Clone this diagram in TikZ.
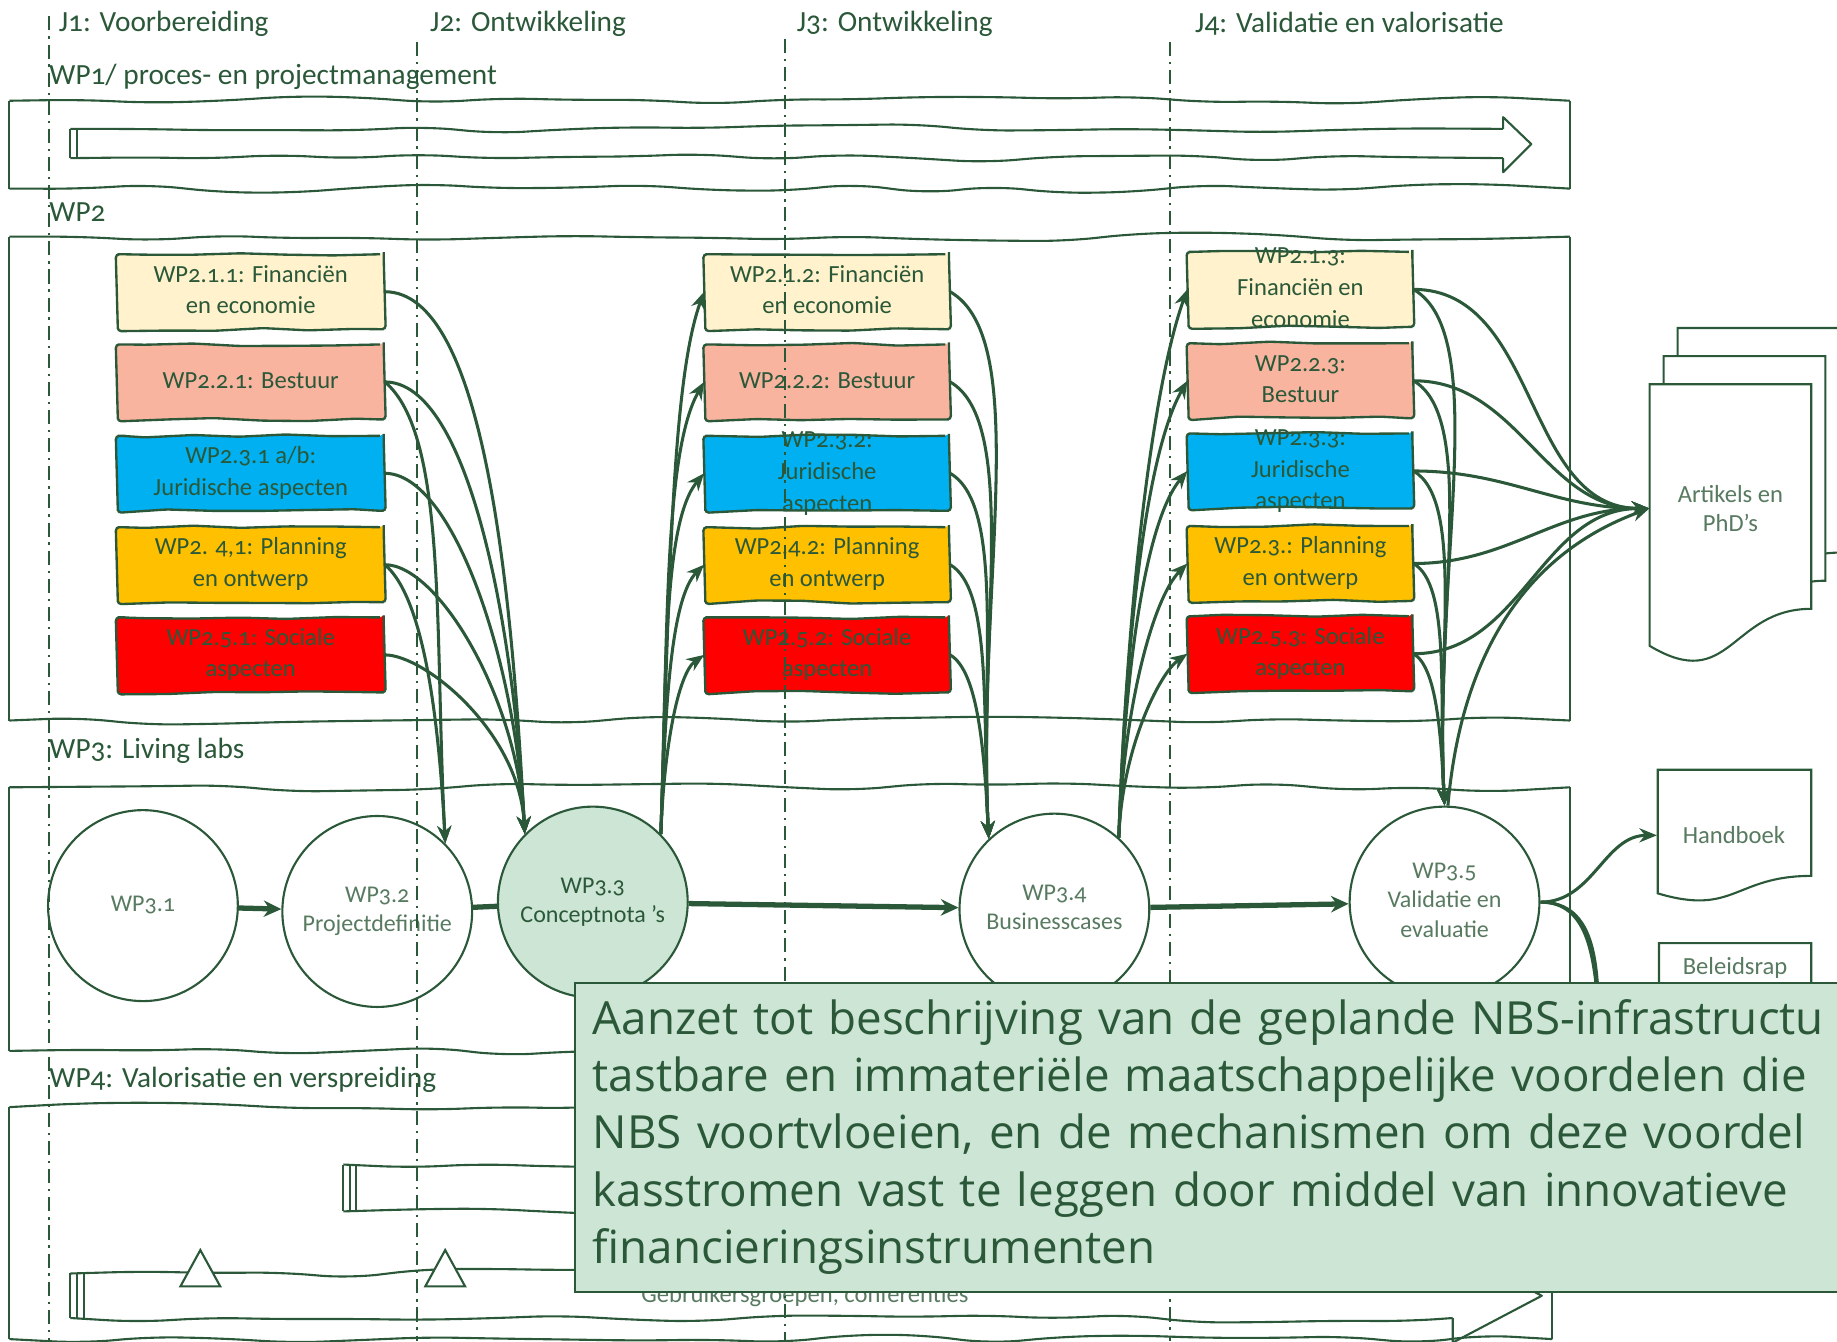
\documentclass[tikz,border=0pt]{standalone}
\usepackage{fontspec}
\setmainfont{Carlito}[Numbers=OldStyle]
\newfontfamily\bigfont{Open Sans}
\usetikzlibrary{calc,arrows.meta,shapes.geometric,decorations.pathmorphing}

\definecolor{dkgreen}{RGB}{42,88,56}
\definecolor{ltgreen}{RGB}{88,122,96}
\definecolor{mint}{RGB}{204,229,212}
\definecolor{finc}{RGB}{255,242,204}
\definecolor{bestc}{RGB}{249,180,160}
\definecolor{jurc}{RGB}{0,176,240}
\definecolor{planc}{RGB}{255,192,0}
\definecolor{socc}{RGB}{255,0,0}

\newcommand\hdrfont{\fontsize{25}{28}\selectfont}
\newcommand\boxfont{\fontsize{21}{27}\selectfont}
\newcommand\stepfont{\fontsize{20.5}{25}\selectfont}
\newcommand\sheetfont{\fontsize{21}{25}\selectfont}
\newcommand\aanzetfont{\bigfont\fontsize{39}{49}\selectfont}

\def\boxtext#1{\smash{\raisebox{-5pt}{\begin{tabular}{@{}c@{}}#1\end{tabular}}}}
\def\steptext#1{\makebox[0pt]{\boxtext{#1}}}
\def\docsheet[#1](#2,#3)(#4,#5){\draw[#1] (#2,#3) -- (#4,#3) -- (#4,{#3+0.802*(#5-#3)}) .. controls ({0.5*(#2+#4)},{#3+0.802*(#5-#3)}) and ({0.5*(#2+#4)},{#3+1.1075*(#5-#3)}) .. (#2,{#3+0.934*(#5-#3)}) -- cycle;}
\def\sketchrect[#1](#2,#3)(#4,#5){\draw[#1, wavy] (#2,#3) -- (#4,#3); \draw[#1, wavy] (#2,#5) -- (#4,#5); \draw[#1] (#2,#3) -- (#2,#5); \draw[#1] (#4,#3) -- (#4,#5);}

\tikzset{
  wavy/.style={decorate, decoration={random steps, segment length=60pt, amplitude=4pt}, rounded corners=25pt},
  outline/.style={draw=dkgreen, line width=1.8pt},
  wpbox/.style={draw=dkgreen, line width=2pt, minimum height=64pt, inner sep=0pt, font=\boxfont, text=dkgreen, decorate, decoration={random steps, segment length=40pt, amplitude=1.5pt}, rounded corners=3pt},
  wpstep/.style={ellipse, draw=dkgreen, line width=1.8pt, minimum width=162pt, minimum height=163pt, inner sep=0pt, font=\stepfont, text=ltgreen},
  hdr/.style={font=\hdrfont, text=dkgreen, anchor=west, inner sep=0pt},
  jline/.style={draw=dkgreen, line width=1.8pt, dash pattern=on 12pt off 5pt on 2pt off 5pt},
  flow/.style={draw=dkgreen, line width=2.6pt, -{Stealth[length=15pt,width=12pt]}},
  bigflow/.style={draw=dkgreen, line width=4.5pt, -{Stealth[length=15pt,width=14pt]}},
  drop/.style={out=#1, in=93, out looseness=0.45, in looseness=1.15},
  rise/.style={out=88, in=#1, out looseness=1.15, in looseness=0.45},
  sheet/.style={draw=dkgreen, line width=1.8pt, fill=white},
  sheetlabel/.style={font=\sheetfont, text=ltgreen, align=center, inner sep=0pt},
  aanzetbox/.style={draw=dkgreen, line width=1.8pt, fill=mint, text=dkgreen, font=\aanzetfont, text width=1070pt, inner xsep=15pt, inner ysep=0pt, minimum height=264pt}
}

\begin{document}
\begin{tikzpicture}[x=1pt, y=-1pt]
		%%%%% START %%%%%
		\pgfmathsetseed{7}
		\useasboundingbox (0,0) rectangle (1568,1145);
		
		\node[hdr] (j1) at (50,20) {J1: Voorbereiding};
		\node[hdr] (j2) at (367,20) {J2: Ontwikkeling};
		\node[hdr] (j3) at (680,20) {J3: Ontwikkeling};
		\node[hdr] (j4) at (1020,20) {J4: Validatie en valorisatie};
		
		\node[hdr] (wp1t) at (42,66) {WP1/ proces- en projectmanagement};
		\node[hdr] (wp2t) at (42,181) {WP2};
		\node[hdr] (wp3t) at (42,641) {WP3: Living labs};
		\node[hdr] (wp4t) at (42,922) {WP4: Valorisatie en verspreiding};
		
		\sketchrect[outline](8,86)(1340,161)
		\sketchrect[outline](8,202)(1340,615)
		\sketchrect[outline](8,672)(1340,897)
		\sketchrect[outline](8,945)(1325,1143)
		
		% WP1 block arrow
		\draw[outline, wavy] (60,110) -- (1283,110);
		\draw[outline, wavy] (60,135) -- (1283,135);
		\draw[outline, line join=round] (1283,110) -- (1283,100) -- (1307,123) -- (1283,147) -- (1283,135);
		\draw[outline] (60,110) -- (60,135) (66,110) -- (66,135);
		
		\node[wpbox, fill=finc, minimum width=227pt] (f1) at (214,249) {\boxtext{WP2.1.1: Financiën\\en economie}};
		\node[wpbox, fill=bestc, minimum width=227pt] (b1) at (214,326) {\boxtext{WP2.2.1: Bestuur}};
		\node[wpbox, fill=jurc, minimum width=227pt] (r1) at (214,404) {\boxtext{WP2.3.1 a/b:\\Juridische aspecten}};
		\node[wpbox, fill=planc, minimum width=227pt] (p1) at (214,482) {\boxtext{WP2. 4,1: Planning\\en ontwerp}};
		\node[wpbox, fill=socc, minimum width=227pt] (s1) at (214,559) {\boxtext{WP2.5.1: Sociale\\aspecten}};
		
		\node[wpbox, fill=finc, minimum width=208pt] (f2) at (706,249) {\boxtext{WP2.1.2: Financiën\\en economie}};
		\node[wpbox, fill=bestc, minimum width=208pt] (b2) at (706,326) {\boxtext{WP2.2.2: Bestuur}};
		\node[wpbox, fill=jurc, minimum width=208pt] (r2) at (706,404) {\boxtext{WP2.3.2:\\Juridische\\aspecten}};
		\node[wpbox, fill=planc, minimum width=208pt] (p2) at (706,482) {\boxtext{WP2.4.2: Planning\\en ontwerp}};
		\node[wpbox, fill=socc, minimum width=208pt] (s2) at (706,559) {\boxtext{WP2.5.2: Sociale\\aspecten}};
		
		\node[wpbox, fill=finc, minimum width=191pt] (f3) at (1110,247) {\boxtext{WP2.1.3:\\Financiën en\\economie}};
		\node[wpbox, fill=bestc, minimum width=191pt] (b3) at (1110,325) {\boxtext{WP2.2.3:\\Bestuur}};
		\node[wpbox, fill=jurc, minimum width=191pt] (r3) at (1110,402) {\boxtext{WP2.3.3:\\Juridische\\aspecten}};
		\node[wpbox, fill=planc, minimum width=191pt] (p3) at (1110,481) {\boxtext{WP2.3.: Planning\\en ontwerp}};
		\node[wpbox, fill=socc, minimum width=191pt] (s3) at (1110,558) {\boxtext{WP2.5.3: Sociale\\aspecten}};
		
		\node[wpstep] (w31) at (122,773) {\steptext{WP3.1}};
		\node[wpstep] (w32) at (322,778) {\steptext{WP3.2\\Projectdefinitie}};
		\node[wpstep, fill=mint, text=dkgreen] (w33) at (506,770) {\steptext{WP3.3\\Conceptnota 's}};
		\node[wpstep] (w34) at (900,776) {\steptext{WP3.4\\Businesscases}};
		\node[wpstep] (w35) at (1233,770) {\steptext{WP3.5\\Validatie en\\evaluatie}};
		
		\draw[bigflow] (w31) -- (w32);
		\draw[dkgreen, line width=4.5pt] (w32) -- (w33);
		\draw[bigflow] (w33) -- (w34);
		\draw[bigflow] (w34) -- (w35);
		
		\draw[flow] (f1.east) to[drop=0] (w33.135);
		\draw[flow] (b1.east) to[drop=0] (w33.135);
		\draw[flow] (b1.east) to[drop=-40] (w32.45);
		\draw[flow] (r1.east) to[drop=0] (w33.135);
		\draw[flow] (p1.east) to[drop=0] (w33.135);
		\draw[flow] (p1.east) to[drop=-40] (w32.45);
		\draw[flow] (s1.east) to[drop=0] (w33.135);
		
		\draw[flow] (w33.45) to[rise=250] (f2.west);
		\draw[flow] (w33.45) to[rise=240] (b2.west);
		\draw[flow] (w33.45) to[rise=230] (r2.west);
		\draw[flow] (w33.45) to[rise=225] (p2.west);
		\draw[flow] (w33.45) to[rise=215] (s2.west);
		
		\draw[flow] (f2.east) to[drop=-30] (w34.133);
		\draw[flow] (b2.east) to[drop=-30] (w34.133);
		\draw[flow] (r2.east) to[drop=-30] (w34.133);
		\draw[flow] (p2.east) to[drop=-30] (w34.133);
		\draw[flow] (s2.east) to[drop=-30] (w34.133);
		
		\draw[flow] (w34.48) to[rise=250] (f3.west);
		\draw[flow] (w34.48) to[rise=240] (b3.west);
		\draw[flow] (w34.48) to[rise=230] (r3.west);
		\draw[flow] (w34.48) to[rise=225] (p3.west);
		\draw[flow] (w34.48) to[rise=215] (s3.west);
		
		\draw[flow] (f3.east) to[drop=-30] (w35.north);
		\draw[flow] (b3.east) to[drop=-30] (w35.north);
		\draw[flow] (r3.east) to[drop=-30] (w35.north);
		\draw[flow] (p3.east) to[drop=-30] (w35.north);
		\draw[flow] (s3.east) to[drop=-30] (w35.north);
		
		\docsheet[sheet](1432,280)(1570,519)
		\docsheet[sheet](1420,304)(1558,543)
		\docsheet[sheet](1408,328)(1546,567)
		\node[sheetlabel, minimum width=138pt] (art) at (1477,434) {Artikels en\\PhD's};
		
		\docsheet[sheet](1415,657)(1546,770)
		\node[sheetlabel, minimum width=131pt] (hand) at (1480,713) {Handboek};
		
		\docsheet[sheet](1416,805)(1546,925)
		\node[sheetlabel] (bel) at (1481,826) {Beleidsrap};
		\coordinate (rep1) at (1416,950);
		\coordinate (rep2) at (1416,1000);
		
		\draw[flow] (f3.east) to[out=0,in=180] (art.west);
		\draw[flow] (b3.east) to[out=0,in=180] (art.west);
		\draw[flow] (r3.east) to[out=0,in=180] (art.west);
		\draw[flow] (p3.east) to[out=0,in=180] (art.west);
		\draw[flow] (s3.east) to[out=0,in=180] (art.west);
		\draw[flow] (w35.88) to[out=85,in=200] (art.west);
		
		\draw[flow] (w35.east) to[out=0,in=180] (hand.west);
		\draw[flow] (w35.east) to[out=0,in=180] (rep1);
		\draw[flow] (w35.east) to[out=0,in=180] (rep2);
		
		% WP4 block arrows
		\draw[outline, wavy] (293,994) -- (1000,994);
		\draw[outline, wavy] (293,1034) -- (1000,1034);
		\draw[outline] (293,994) -- (293,1034) (299,994) -- (299,1034) (304,994) -- (304,1034);
		
		\draw[outline, wavy] (60,1087) -- (1240,1087);
		\draw[outline, wavy] (60,1125) -- (1240,1125);
		\draw[outline, line join=round] (1240,1087) -- (1240,1066) -- (1316,1106) -- (1240,1146) -- (1240,1125);
		\draw[outline] (60,1087) -- (60,1125) (66,1087) -- (66,1125) (72,1087) -- (72,1125);
		\draw[outline, fill=white] (171,1067) -- (188,1098) -- (154,1098) -- cycle;
		\draw[outline, fill=white] (380,1067) -- (397,1098) -- (363,1098) -- cycle;
		\node[sheetlabel] (gebr) at (687,1106) {Gebruikersgroepen, conferenties};
		
		\draw[jline] (42,14) -- (42,1145);
		\draw[jline] (356,36) -- (356,1145);
		\draw[jline] (670,33) -- (670,1145);
		\draw[jline] (999,36) -- (999,1145);
		
		\node[aanzetbox, anchor=north west] (aanzet) at (490,838) {\begin{tabular}{@{}l@{}}Aanzet tot beschrijving van de geplande NBS-infrastructu\\tastbare en immateriële maatschappelijke voordelen die\\NBS voortvloeien, en de mechanismen om deze voordel\\kasstromen vast te leggen door middel van innovatieve\\financieringsinstrumenten\end{tabular}};
		
		%%%%% END %%%%%
\end{tikzpicture}
\end{document}
